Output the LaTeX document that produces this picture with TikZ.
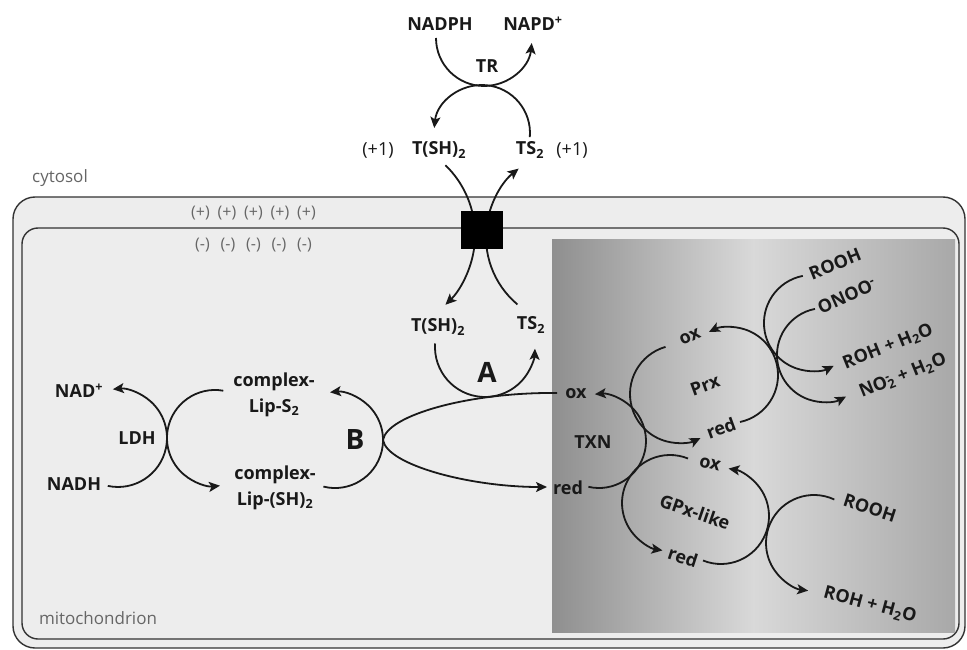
\documentclass[tikz,border=0pt]{standalone}
\usepackage{fontspec}
\setmainfont{Open Sans}
\usetikzlibrary{arrows.meta}
\definecolor{bgc}{HTML}{EDEDED}
\definecolor{memc}{HTML}{333333}
\definecolor{graytxt}{HTML}{666666}
\newcommand\lblfont{\bfseries\fontsize{18}{26}\selectfont}
\newcommand\regfont{\fontsize{18}{22}\selectfont}
\newcommand\bigfont{\bfseries\fontsize{28}{30}\selectfont}
\newcommand\memfont{\fontsize{17}{20}\selectfont}
\newcommand\chgfont{\fontsize{16}{18}\selectfont}
\begin{document}
\begin{tikzpicture}[x=1pt,y=1pt,
  lbl/.style={font=\lblfont, inner sep=0pt, text=black!90, align=center},
  reg/.style={font=\regfont, inner sep=0pt, text=black!90},
  big/.style={font=\bigfont, inner sep=0pt, text=black!90},
  memlbl/.style={font=\memfont, inner sep=0pt, text=graytxt},
  chg/.style={font=\chgfont, inner sep=0pt, text=graytxt},
  ln/.style={line width=1.8pt, draw=black!90},
  arr/.style={ln, -{Stealth[length=11pt,width=10pt,inset=2.5pt]}},
  membrane/.style={draw=memc, line width=1.4pt, fill=bgc}]
\useasboundingbox (0,0) rectangle (967,-650);
\fill[white] (0,0) rectangle (967,-650);
% membranes
\draw[membrane, rounded corners=22pt] (13,-197) rectangle (965,-648);
\draw[membrane, rounded corners=16pt] (22,-228) rectangle (959,-639);
% shaded panel
\shade[left color=black!44, right color=black!34, middle color=black!15] (552,-239) rectangle (955,-632);
% compartment labels
\node[memlbl] (cyto) at (60,-178) {cytosol};
\node[memlbl] (mito) at (98,-618) {mitochondrion};
\foreach \i/\x in {1/200.5,2/227,3/253.5,4/280,5/306.5}
  \node[chg] (plus\i) at (\x,-213) {(+)};
\foreach \i/\x in {1/202.5,2/228,3/253.5,4/279,5/304.5}
  \node[chg] (minus\i) at (\x,-245) {(-)};
% top cycle labels
\node[lbl] (nadph) at (440,-24) {NADPH};
\node[lbl] (napd) at (533,-24) {NAPD\textsuperscript{+}};
\node[lbl] (tr) at (487,-66) {TR};
\node[reg] (p1l) at (378,-150) {(+1)};
\node[lbl] (tshtop) at (439,-150) {T(SH)\textsubscript{2}};
\node[lbl] (tstop) at (530,-150) {TS\textsubscript{2}};
\node[reg] (p1r) at (572,-150) {(+1)};
% lower labels of A
\node[lbl] (tshlow) at (438,-327) {T(SH)\textsubscript{2}};
\node[lbl] (tslow) at (531,-325) {TS\textsubscript{2}};
\node[big] (labA) at (487,-372) {A};
\node[big] (labB) at (355,-440) {B};
% LDH
\node[lbl] (nad) at (79,-391) {NAD\textsuperscript{+}};
\node[lbl] (ldh) at (137,-438) {LDH};
\node[lbl] (nadh) at (74,-484) {NADH};
\node[lbl] (lipS) at (274,-395) {complex-\\Lip-S\textsubscript{2}};
\node[lbl] (lipSH) at (275,-488) {complex-\\Lip-(SH)\textsubscript{2}};
% TXN
\node[lbl] (txnox) at (576,-394) {ox};
\node[lbl] (txn) at (593,-442) {TXN};
\node[lbl] (txnred) at (568,-488) {red};
% Prx
\node[lbl, rotate=25] (prxox) at (690,-337) {ox};
\node[lbl, rotate=20] (prx) at (705,-385) {Prx};
\node[lbl, rotate=20] (prxred) at (721,-428) {red};
\node[lbl, rotate=22] (rooh1) at (835,-264) {ROOH};
\node[lbl, rotate=24] (onoo) at (847,-296) {ONOO\textsuperscript{-}};
\node[lbl, rotate=22] (roh1) at (888,-347) {ROH + H\textsubscript{2}O};
\node[lbl, rotate=22] (no2) at (903,-376) {NO\rlap{\textsuperscript{-}}\textsubscript{2} + H\textsubscript{2}O};
% GPx
\node[lbl, rotate=-15] (gpxox) at (710,-464) {ox};
\node[lbl, rotate=-19] (gpx) at (695,-512) {GPx-like};
\node[lbl, rotate=-18] (gpxred) at (683,-557) {red};
\node[lbl, rotate=-18] (rooh2) at (870,-508) {ROOH};
\node[lbl, rotate=-15] (roh2) at (870,-605) {ROH + H\textsubscript{2}O};
% arc start coordinates
\coordinate (trA) at (436,-38);
\coordinate (trB) at (529.8,-137.2);
\coordinate (tpL) at (445.4,-165.2);
\coordinate (tpR) at (517.4,-304.4);
\coordinate (cycA) at (435.1,-343.5);
\coordinate (txnA) at (588.4,-486.8);
\coordinate (oxL) at (557,-393);
\coordinate (btip) at (383,-440);
\coordinate (redL) at (547,-487);
\coordinate (prxL) at (665.5,-346.9);
\coordinate (prxR) at (740,-422);
\coordinate (roohA) at (802.8,-275.9);
\coordinate (onooA) at (815,-308.9);
\coordinate (gpxL) at (688,-458.5);
\coordinate (gpxR) at (703,-560.5);
\coordinate (roohB) at (834.3,-499.5);
\coordinate (ldhL) at (107.8,-485.9);
\coordinate (ldhR) at (223.3,-390.7);
\coordinate (bArc) at (323.4,-486.6);
% arcs
\draw[arr] (trA) arc[start angle=180, end angle=354, radius=48];
\draw[arr] (trB) arc[start angle=-5, end angle=174, radius=48];
\draw[arr] (tpL) arc[start angle=46, end angle=-46, radius=97];
\draw[arr] (tpR) arc[start angle=230, end angle=129, radius=88];
\draw[arr] (cycA) arc[start angle=176, end angle=358, radius=50];
\draw[arr] (txnA) arc[start angle=257, end angle=455, radius=47];
\draw[ln] (oxL) .. controls (470,-392) and (387,-415) .. (btip);
\draw[arr] (btip) .. controls (387,-465) and (470,-487) .. (redL);
\draw[arr] (prxL) arc[start angle=106, end angle=296, radius=49];
\draw[arr] (prxR) arc[start angle=282, end angle=476, radius=48];
\draw[arr] (roohA) arc[start angle=101, end angle=297, radius=48];
\draw[arr] (onooA) arc[start angle=101, end angle=298, radius=47];
\draw[arr] (gpxL) arc[start angle=68, end angle=261, radius=48];
\draw[arr] (gpxR) arc[start angle=248, end angle=441, radius=48];
\draw[arr] (roohB) arc[start angle=65, end angle=263, radius=48];
\draw[arr] (ldhL) arc[start angle=258, end angle=456, radius=49];
\draw[arr] (ldhR) arc[start angle=80, end angle=276, radius=48];
\draw[arr] (bArc) arc[start angle=256, end angle=456, radius=48];
% transporter
\node[fill=black, minimum width=42pt, minimum height=38pt, inner sep=0pt] (pump) at (482,-230) {};
\end{tikzpicture}
\end{document}
